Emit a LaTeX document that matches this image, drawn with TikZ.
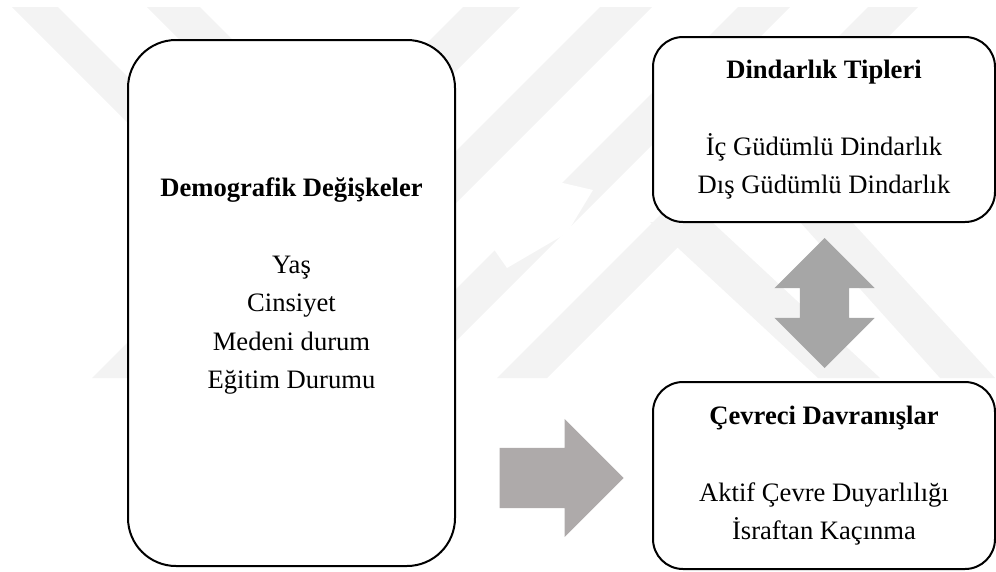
\documentclass[tikz,border=0pt]{standalone}
\usepackage{fontspec}
\setmainfont{Liberation Serif}
\usetikzlibrary{shapes.arrows}
\definecolor{wmgray}{HTML}{F3F3F3}
\definecolor{arrowgray}{HTML}{AEAAAA}
\definecolor{darrowgray}{HTML}{A6A6A6}
\tikzset{
	kutu/.style={draw=black, line width=2pt, fill=white, inner sep=0pt},
	yazi/.style={align=center, inner sep=0pt, font=\fontsize{26.6}{38.4}\selectfont},
	watermark/.style={fill=wmgray, draw=none},
	blokok/.style={draw=none, inner xsep=0pt, minimum width=0pt}
}

\begin{document}
\begin{tikzpicture}[x=1pt,y=-1pt]
            \useasboundingbox (0,0) rectangle (996,571);
            % Watermark
            \begin{scope}
                \clip (0,7) rectangle (996,378);
                \fill[watermark] (12,7) -- (58,7) -- (291,240) -- (245,240) -- cycle;
                \fill[watermark] (147,7) -- (200,7) -- (343,150) -- (290,150) -- cycle;
                \fill[watermark] (463,7) -- (520,7) -- (149,378) -- (92,378) -- cycle;
                \fill[watermark] (600,7) -- (652,7) -- (281,378) -- (229,378) -- cycle;
                \fill[watermark] (738,7) -- (790,7) -- (419,378) -- (367,378) -- cycle;
                \fill[watermark] (868,7) -- (918,7) -- (547,378) -- (497,378) -- cycle;
                \fill[watermark] (650,222) -- (712,222) -- (880,378) -- (818,378) -- cycle;
                \fill[watermark] (800,222) -- (852,222) -- (995,378) -- (940,378) -- cycle;
                \fill[white] (493,248) -- (507,268) -- (567,233) -- (593,190) -- (550,180) -- cycle;
            \end{scope}
            % Boxes
            \node[kutu, rounded corners=48pt, minimum width=327pt, minimum height=526pt] (dem) at (291.5,303) {};
            \node[kutu, rounded corners=30pt, minimum width=342pt, minimum height=185pt] (din) at (824,129.5) {};
            \node[kutu, rounded corners=30pt, minimum width=342pt, minimum height=187pt] (cev) at (824,475.5) {};
            % Texts
            \node[yazi] (demyazi) at ([yshift=17pt]dem.center) {\textbf{Demografik Değişkeler}\\[38.4pt] Yaş\\ Cinsiyet\\ Medeni durum\\ Eğitim Durumu};
            \node[yazi] (dinyazi) at (din.center) {\textbf{Dindarlık Tipleri}\\[38.4pt] İç Güdümlü Dindarlık\\ Dış Güdümlü Dindarlık};
            \node[yazi] (cevyazi) at (cev.center) {\textbf{Çevreci Davranışlar}\\[38.4pt] Aktif Çevre Duyarlılığı\\ İsraftan Kaçınma};
            % Block arrows
            \node[blokok, single arrow, fill=arrowgray, anchor=tip, minimum height=124pt, inner ysep=30pt, single arrow head extend=29pt, single arrow tip angle=90] (ok) at (624,478) {};
            \node[blokok, double arrow, fill=darrowgray, rotate=90, minimum height=130pt, inner ysep=24.5pt, double arrow head extend=25.5pt, double arrow tip angle=90] (ciftok) at (824.5,303) {};
        \end{tikzpicture}
\end{document}
